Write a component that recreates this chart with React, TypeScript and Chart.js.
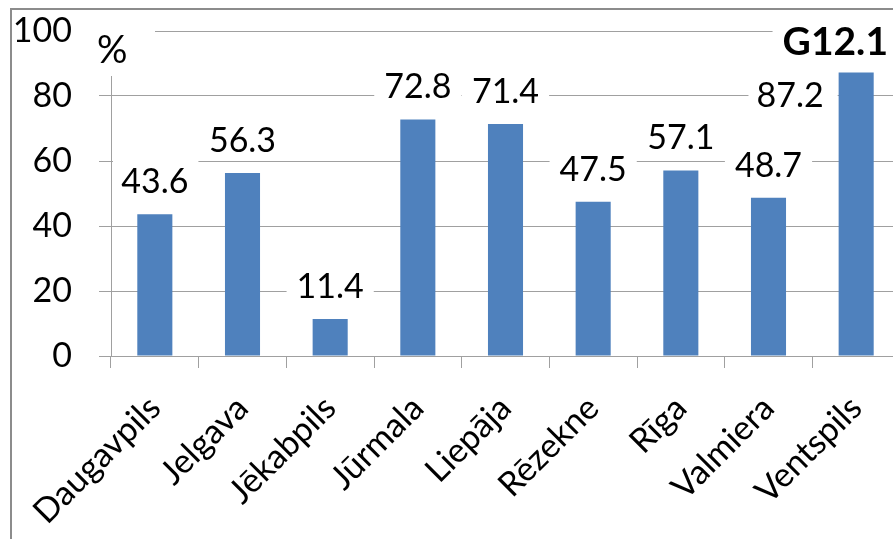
import React, { useEffect, useRef } from "react";
import { Chart, registerables } from "chart.js";

Chart.register(...registerables);

const categories = ["Daugavpils", "Jelgava", "Jēkabpils", "Jūrmala", "Liepāja", "Rēzekne", "Rīga", "Valmiera", "Ventspils"];
const values = [43.6, 56.3, 11.4, 72.8, 71.4, 47.5, 57.1, 48.7, 87.2];
const yTicks = [0, 20, 40, 60, 80, 100];
const chartTitle = "G12.1";
const unitLabel = "%";

const FONT = "Lato";
const GRID = "#a0a0a0";
const BAR = "#4F81BD";

type Box = { l: number; r: number; t: number; b: number };
const overlaps = (a: Box, b: Box) => a.l < b.r && a.r > b.l && a.t < b.b && a.b > b.t;

const overlayPlugin = {
  id: "overlay",
  beforeDraw(chart: any) {
    const { ctx, width, height } = chart;
    ctx.save();
    ctx.fillStyle = "#fff";
    ctx.fillRect(0, 0, width, height);
    ctx.restore();
  },
  afterDatasetsDraw(chart: any) {
    const ctx = chart.ctx as CanvasRenderingContext2D;
    const area = chart.chartArea;
    ctx.save();
    // title
    ctx.font = `bold 39px ${FONT}`;
    ctx.textAlign = "right";
    ctx.textBaseline = "alphabetic";
    const tW = ctx.measureText(chartTitle).width;
    const tx = 888, ty = 55;
    const titleBox: Box = { l: tx - tW - 10, r: tx + 10, t: ty - 40, b: ty + 10 };
    ctx.fillStyle = "#fff";
    ctx.fillRect(titleBox.l, titleBox.t, titleBox.r - titleBox.l, titleBox.b - titleBox.t);
    ctx.fillStyle = "#000";
    ctx.fillText(chartTitle, tx, ty);

    // unit label
    ctx.font = `38px ${FONT}`;
    ctx.textAlign = "left";
    ctx.fillStyle = "#fff";
    ctx.fillRect(88, 14, 67, 62);
    ctx.fillStyle = "#000";
    ctx.fillText(unitLabel, 97, 63);

    // data labels
    const meta = chart.getDatasetMeta(0);
    ctx.font = `34px ${FONT}`;
    ctx.textAlign = "center";
    meta.data.forEach((bar: any, i: number) => {
      const text = values[i].toFixed(1);
      const w = ctx.measureText(text).width;
      let cx = bar.x;
      let base = bar.y - 21;
      let box: Box = { l: cx - w / 2 - 10, r: cx + w / 2 + 10, t: base - 35, b: base + 8 };
      if (overlaps(box, titleBox)) {
        cx = bar.x - bar.width / 2 - 15 - w / 2;
        base = bar.y + 34;
        box = { l: cx - w / 2 - 8, r: bar.x - bar.width / 2 - 1, t: base - 33, b: base + 8 };
      }
      box.l = Math.max(box.l, area.left + 2);
      ctx.fillStyle = "#fff";
      ctx.fillRect(box.l, box.t, box.r - box.l, box.b - box.t);
      ctx.fillStyle = "#000";
      ctx.fillText(text, cx, base);
    });
    ctx.restore();
  },
  afterDraw(chart: any) {
    const ctx = chart.ctx as CanvasRenderingContext2D;
    ctx.save();
    ctx.strokeStyle = "#8c8c8c";
    ctx.lineWidth = 2;
    ctx.strokeRect(11, 9, 3000, 3000);
    ctx.restore();
  },
};

export default function App() {
  const ref = useRef<HTMLCanvasElement>(null);
  useEffect(() => {
    if (!ref.current) return;
    const chart = new Chart(ref.current, {
      type: "bar",
      data: {
        labels: categories,
        datasets: [
          {
            data: values,
            backgroundColor: BAR,
            borderWidth: 0,
            barPercentage: 0.4,
            categoryPercentage: 1.0,
          },
        ],
      },
      options: {
        animation: false,
        responsive: false,
        devicePixelRatio: 1,
        layout: { padding: { left: 0, right: 10, top: 31, bottom: 0 } },
        plugins: { legend: { display: false }, tooltip: { enabled: false }, title: { display: false } },
        scales: {
          x: {
            grid: { display: true, drawOnChartArea: false, drawTicks: true, tickLength: 12, color: GRID, offset: true },
            border: { display: true, color: GRID },
            ticks: {
              font: { family: FONT, size: 34 },
              color: "#000",
              maxRotation: 45,
              minRotation: 45,
              autoSkip: false,
              padding: 20,
            },
            afterFit(scale: any) {
              scale.height = 539 - 356;
            },
          },
          y: {
            min: yTicks[0],
            max: yTicks[yTicks.length - 1],
            grid: { color: GRID, drawTicks: true, tickLength: 12 },
            border: { display: true, color: GRID },
            ticks: {
              stepSize: yTicks[1] - yTicks[0],
              font: { family: FONT, size: 34 },
              color: "#000",
              padding: 27,
            },
            afterFit(scale: any) {
              scale.width = 111;
              scale.paddingTop = 0;
              scale.paddingBottom = 0;
            },
          },
        },
      },
      plugins: [overlayPlugin],
    });
    return () => chart.destroy();
  }, []);
  return (
    <div style={{ position: "fixed", left: 0, top: 0, width: 893, height: 539, overflow: "hidden", background: "#fff" }}>
      <canvas ref={ref} width={910} height={539} style={{ display: "block", width: 910, height: 539 }} />
    </div>
  );
}
